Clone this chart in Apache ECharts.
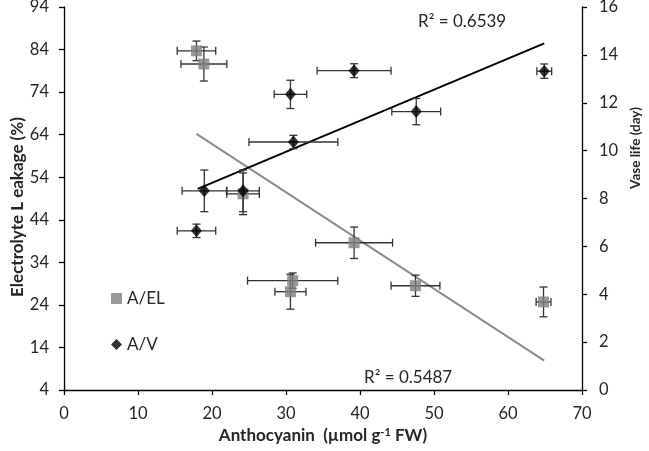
<!DOCTYPE html>
<html><head><meta charset="utf-8">
<script src="https://cdn.jsdelivr.net/npm/echarts@6/dist/echarts.min.js"></script>
<style>html,body{margin:0;padding:0;background:#fff}#c{width:649px;height:451px}</style>
</head><body><div id="c"></div>
<script>
// A/EL : anthocyanin (x), electrolyte leakage (left axis)
var elX    = [17.9, 18.9, 24.2, 30.9, 30.6, 39.2, 47.5, 64.8];
var elY    = [83.7, 80.6, 50.1, 29.7, 27.1, 38.6, 28.5, 24.7];
var elXErr = [2.6, 3.1, 2.2, 6.1, 2.1, 5.2, 3.3, 1.0];
var elYErr = [2.3, 4.0, 4.9, 1.8, 4.1, 3.7, 2.5, 3.5];
// A/V : anthocyanin (x), vase life (right axis)
var vX    = [18.96, 24.2, 17.9, 39.2, 30.6, 31.0, 47.6, 64.9];
var vY    = [8.32, 8.32, 6.65, 13.34, 12.35, 10.36, 11.63, 13.32];
var vXErr = [3.0, 2.2, 2.6, 5.0, 2.2, 6.0, 3.3, 1.0];
var vYErr = [0.87, 0.87, 0.28, 0.29, 0.59, 0.28, 0.55, 0.30];
// trendline end points
var trendEL = [[17.9, 64.2], [64.9, 10.9]];
var trendV  = [[18.07, 8.40], [64.9, 14.48]];
var r2EL = 'R² = 0.5487';
var r2V  = 'R² = 0.6539';
var leftTitle = 'Electrolyte L eakage (%)';
// tick labels
var leftTicks = [4, 14, 24, 34, 44, 54, 64, 74, 84, 94];

var FONT = 'Lato';
var TXT = '#262626';

function pts(xs, ys, xe, ye) {
  return xs.map(function (x, i) { return [x, ys[i], xe[i], ye[i]]; });
}
function errRender(params, api) {
  var x = api.value(0), y = api.value(1), xe = api.value(2), ye = api.value(3);
  var c = api.coord([x, y]);
  var l = api.coord([x - xe, y]), r = api.coord([x + xe, y]);
  var t = api.coord([x, y + ye]), b = api.coord([x, y - ye]);
  var cap = 4;
  var st = { stroke: '#333', lineWidth: 1.3 };
  var mk = function (x1, y1, x2, y2) { return { type: 'line', shape: { x1: x1, y1: y1, x2: x2, y2: y2 }, style: st }; };
  return { type: 'group', children: [
    mk(l[0], c[1], r[0], c[1]),
    mk(l[0], c[1] - cap, l[0], c[1] + cap),
    mk(r[0], c[1] - cap, r[0], c[1] + cap),
    mk(c[0], t[1], c[0], b[1]),
    mk(c[0] - cap, t[1], c[0] + cap, t[1]),
    mk(c[0] - cap, b[1], c[0] + cap, b[1])
  ] };
}

var chart = echarts.init(document.getElementById('c'), null, { renderer: 'canvas' });
var axisLine = { show: true, lineStyle: { color: '#000', width: 1.3 } };
chart.setOption({
  animation: false,
  textStyle: { fontFamily: FONT },
  grid: { left: 64, right: 67, top: 7, bottom: 61, containLabel: false, outerBoundsMode: 'none' },
  legend: {
    orient: 'vertical', left: 106, top: 285, itemGap: 29,
    itemWidth: 11, itemHeight: 11,
    textStyle: { fontFamily: FONT, fontSize: 17, color: TXT },
    data: [{ name: 'A/EL', icon: 'rect' }, { name: 'A/V', icon: 'diamond' }]
  },
  xAxis: {
    type: 'value', min: 0, max: 70, interval: 10,
    axisLine: axisLine, splitLine: { show: false },
    axisTick: { show: true, length: 5, lineStyle: { color: '#000', width: 1.3 } },
    axisLabel: { margin: 15, fontSize: 16.5, color: TXT, fontFamily: FONT },
    name: '{b|Anthocyanin  (µmol g}{s|-1}{b| FW)}',
    nameLocation: 'middle', nameGap: 37,
    nameTextStyle: { rich: {
      b: { fontSize: 17, fontWeight: 'bold', color: TXT, fontFamily: FONT },
      s: { fontSize: 11, fontWeight: 'bold', color: TXT, fontFamily: FONT, verticalAlign: 'top', padding: [0, 0, 6, 0] }
    } }
  },
  yAxis: [{
    type: 'value', min: 4, max: 94, position: 'left',
    axisLine: axisLine, splitLine: { show: false },
    axisTick: { show: true, length: 5, customValues: leftTicks, lineStyle: { color: '#000', width: 1.3 } },
    axisLabel: { margin: 15, fontSize: 16.5, color: TXT, fontFamily: FONT, customValues: leftTicks }
  }, {
    type: 'value', min: 0, max: 16, interval: 2, position: 'right',
    axisLine: axisLine, splitLine: { show: false },
    axisTick: { show: true, length: 5, lineStyle: { color: '#000', width: 1.3 } },
    axisLabel: { margin: 17, fontSize: 16.5, color: TXT, fontFamily: FONT },
    name: 'Vase life (day)', nameLocation: 'middle', nameGap: 47,
    nameTextStyle: { fontSize: 13.5, fontWeight: 'bold', color: TXT, fontFamily: FONT, padding: [0, 0, 0, 101] }
  }],
  graphic: [
    { type: 'text', x: 18, y: 207, rotation: Math.PI / 2,
      style: { text: leftTitle, font: 'bold 17px ' + FONT, fill: TXT, align: 'center', verticalAlign: 'middle' } },
    { type: 'text', left: 418, top: 13, style: { text: r2V, font: '17px ' + FONT, fill: TXT } },
    { type: 'text', left: 364, top: 369, style: { text: r2EL, font: '17px ' + FONT, fill: TXT } }
  ],
  series: [
    { type: 'line', name: 'trendEL', yAxisIndex: 0, data: trendEL, symbol: 'none', silent: true,
      lineStyle: { color: '#8c8c8c', width: 2 }, z: 1 },
    { type: 'line', name: 'trendV', yAxisIndex: 1, data: trendV, symbol: 'none', silent: true,
      lineStyle: { color: '#000', width: 2 }, z: 1 },
    { type: 'custom', name: 'errEL', yAxisIndex: 0, renderItem: errRender,
      data: pts(elX, elY, elXErr, elYErr), z: 2, encode: { x: 0, y: 1 } },
    { type: 'scatter', name: 'A/EL', yAxisIndex: 0, symbol: 'rect', symbolSize: 11,
      itemStyle: { color: '#808080' }, data: elX.map(function (x, i) { return [x, elY[i]]; }), z: 3 },
    { type: 'custom', name: 'errV', yAxisIndex: 1, renderItem: errRender,
      data: pts(vX, vY, vXErr, vYErr), z: 4, encode: { x: 0, y: 1 } },
    { type: 'scatter', name: 'A/V', yAxisIndex: 1, symbol: 'diamond', symbolSize: [11, 13],
      itemStyle: { color: '#000' }, data: vX.map(function (x, i) { return [x, vY[i]]; }), z: 5 }
  ]
});
</script>
</body></html>
